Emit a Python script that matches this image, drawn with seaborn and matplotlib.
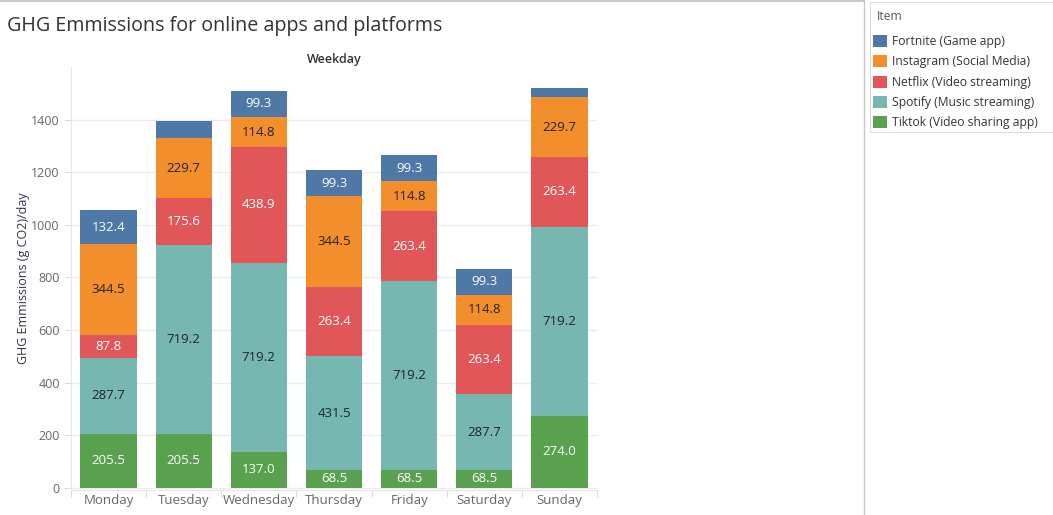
import numpy as np
import pandas as pd
import seaborn as sns
import matplotlib.pyplot as plt
from matplotlib.patches import Patch, Rectangle
from matplotlib.lines import Line2D

days = ["Monday", "Tuesday", "Wednesday", "Thursday", "Friday", "Saturday", "Sunday"]
items = ["Fortnite (Game app)", "Instagram (Social Media)", "Netflix (Video streaming)",
         "Spotify (Music streaming)", "Tiktok (Video sharing app)"]
fortnite = [132.4, 66.2, 99.3, 99.3, 99.3, 99.3, 33.1]
instagram = [344.5, 229.7, 114.8, 344.5, 114.8, 114.8, 229.7]
netflix = [87.8, 175.6, 438.9, 263.4, 263.4, 263.4, 263.4]
spotify = [287.7, 719.2, 719.2, 431.5, 719.2, 287.7, 719.2]
tiktok = [205.5, 205.5, 137.0, 68.5, 68.5, 68.5, 274.0]

colors = ["#4e79a7", "#f28e2b", "#e15759", "#76b7b2", "#59a14f"]
label_colors = ["white", "#222222", "white", "#222222", "white"]

sns.set_theme(style="white")
plt.rcParams["font.family"] = ["Open Sans", "DejaVu Sans"]

df = pd.DataFrame({"Weekday": days, items[0]: fortnite, items[1]: instagram,
                   items[2]: netflix, items[3]: spotify, items[4]: tiktok})

fig = plt.figure(figsize=(10.53, 5.15), dpi=100)
ax = fig.add_axes([71 / 1053, 1 - 490 / 515, (597 - 71) / 1053, (490 - 67) / 515])

# stack from the bottom: tiktok, spotify, netflix, instagram, fortnite
stack_order = items[::-1]
cum = df[stack_order].cumsum(axis=1)
for item in items:  # tallest first so the shorter ones sit on top
    idx = items.index(item)
    sns.barplot(x=df["Weekday"], y=cum[item], color=colors[idx], saturation=1,
                width=0.75, linewidth=0, ax=ax, zorder=2)

base = cum.shift(1, axis=1).fillna(0)
for item in stack_order:
    idx = items.index(item)
    for i, v in enumerate(df[item]):
        if v < 68:  # too small segments get no label
            continue
        ax.text(i, base[item][i] + v / 2, f"{v:.1f}", ha="center", va="center",
                fontsize=9.5, color=label_colors[idx], zorder=3)

ax.set_xlim(-0.5, 6.5)
ax.set_ylim(-8, 1600)
ax.set_yticks(range(0, 1401, 200))
ax.yaxis.grid(True, color="#ececec", linewidth=1, zorder=0)
ax.set_axisbelow(True)
ax.set_xlabel("")
ax.set_ylabel("GHG Emmissions (g CO2)/day", fontsize=9, color="#33304a", labelpad=1)
ax.tick_params(axis="y", length=5, width=0.8, color="#dddddd", labelsize=9,
               labelcolor="#666666", left=True, pad=3)
ax.tick_params(axis="x", length=0, labelsize=9.5, labelcolor="#666666", pad=3)
ax.set_xticks(np.arange(-0.5, 7, 1), minor=True)
ax.tick_params(axis="x", which="minor", length=5, width=0.8, color="#dddddd", bottom=True)
for s in ["top", "right"]:
    ax.spines[s].set_visible(False)
for s in ["left", "bottom"]:
    ax.spines[s].set_color("#e6e6e6")
    ax.spines[s].set_linewidth(0.8)

fig.text(7 / 1053, 1 - 26 / 515, "GHG Emmissions for online apps and platforms",
         fontsize=14.2, color="#333333", va="center", ha="left")
fig.text((71 + 597) / 2 / 1053, 1 - 59 / 515, "Weekday", fontsize=9, color="#333333",
         va="center", ha="center", fontweight="semibold")

# panel separators
fig.add_artist(Line2D([0, 864 / 1053], [1 - 1 / 515, 1 - 1 / 515], color="#c8c8c8", linewidth=1.5))
fig.add_artist(Line2D([864 / 1053, 864 / 1053], [0, 1], color="#c8c8c8", linewidth=1))

# legend box
fig.add_artist(Rectangle((870 / 1053, 1 - 132 / 515), 190 / 1053, 130 / 515,
                         transform=fig.transFigure, facecolor="white",
                         edgecolor="#dddddd", linewidth=0.8))
fig.text(877 / 1053, 1 - 16 / 515, "Item", fontsize=8.7, color="#555555",
         va="center", ha="left")
handles = [Patch(facecolor=c, edgecolor="none") for c in colors]
leg = fig.legend(handles, items, loc="upper left",
                 bbox_to_anchor=(873 / 1053, 1 - 35 / 515), fontsize=8.7,
                 frameon=False, handlelength=1.15, handleheight=1.15,
                 handletextpad=0.4, labelspacing=0.6, borderpad=0, borderaxespad=0)
for t in leg.get_texts():
    t.set_color("#333333")

fig.savefig("out.png", dpi=100)
